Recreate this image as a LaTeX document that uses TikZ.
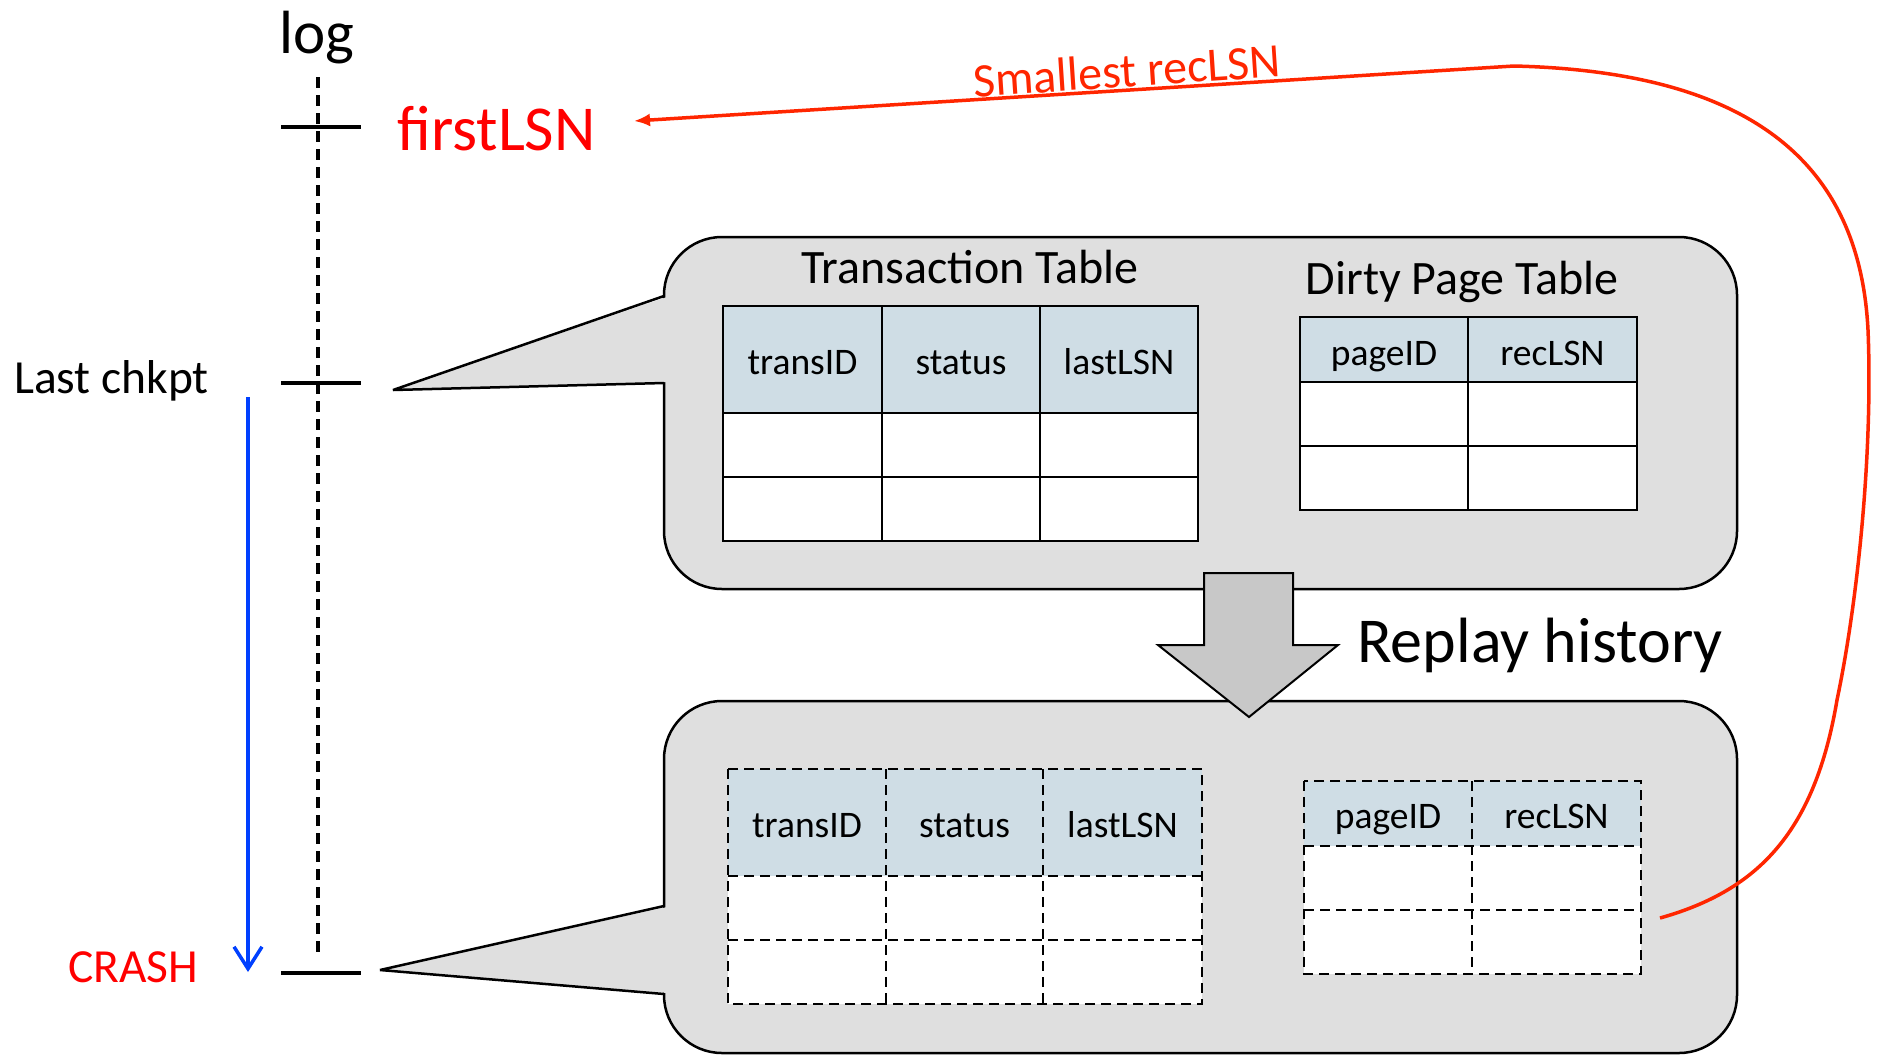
\documentclass[tikz,border=0pt]{standalone}
\usepackage{fontspec}
\setmainfont{Carlito}
\usetikzlibrary{arrows.meta}
\definecolor{calloutgray}{RGB}{223,223,223}
\definecolor{arrowgray}{RGB}{200,200,200}
\definecolor{hdrblue}{RGB}{207,221,229}
\definecolor{linered}{RGB}{255,38,0}
\definecolor{logblue}{RGB}{0,64,255}
\begin{document}
\begin{tikzpicture}[x=1pt,y=-1pt,
  lbl/.style={inner sep=0pt, anchor=base west, font=\fontsize{47.5pt}{56pt}\selectfont},
  title/.style={inner sep=0pt, anchor=base, font=\fontsize{48pt}{57pt}\selectfont},
  hdr/.style={inner sep=0pt, anchor=base, font=\fontsize{37.5pt}{45pt}\selectfont},
  tick/.style={line width=4pt},
  callout/.style={draw=black, line width=2.5pt, fill=calloutgray},
  pointer/.style={draw=black, line width=2.5pt, line join=bevel},
  gridline/.style={line width=2.5pt},
  dashgrid/.style={line width=2.5pt, dash pattern=on 10pt off 6pt},
]
\useasboundingbox (0,0) rectangle (1877,1058);
\fill[white] (0,0) rectangle (1877,1058);

% ---------- log axis ----------
\node[inner sep=0pt, anchor=base, font=\fontsize{61pt}{71pt}\selectfont] (logl) at (317,53) {log};
\coordinate (logtop) at (318,77);
\coordinate (logbot) at (318,952);
\draw[line width=4pt, dash pattern=on 11pt off 7pt] (logtop) -- (logbot);
\coordinate (t1a) at (281,127); \coordinate (t1b) at (361,127);
\coordinate (t2a) at (281,383); \coordinate (t2b) at (361,383);
\coordinate (t3a) at (281,973); \coordinate (t3b) at (361,973);
\draw[tick] (t1a) -- (t1b);
\draw[tick] (t2a) -- (t2b);
\draw[tick] (t3a) -- (t3b);

\node[lbl, text=red, font=\fontsize{64pt}{74pt}\selectfont] (firstLSN) at (397,150) {firstLSN};
\node[lbl] (chkpt) at (14,393) {Last chkpt};
\node[lbl, text=red] (crash) at (68,982) {CRASH};

\coordinate (bluetop) at (248,397);
\coordinate (bluebot) at (248,972);
\draw[logblue, line width=3.5pt, -{Straight Barb[length=22pt,width=28pt]}] (bluetop) -- (bluebot);

% ---------- top callout ----------
\draw[callout, rounded corners=58pt] (664,237) rectangle (1737,589);
\fill[calloutgray] (667,297) -- (393,390) -- (667,382) -- cycle;
\draw[pointer] (664,296) -- (393,390) -- (664,383);

\node[title] (tttitle) at (970,283) {Transaction Table};
\node[title] (dpttitle) at (1462,294) {Dirty Page Table};

% transaction table (top)
\fill[hdrblue] (723,306) rectangle (1198,413);
\fill[white] (723,413) rectangle (1198,541);
\draw[gridline] (723,306) rectangle (1198,541);
\draw[gridline] (723,413) -- (1198,413) (723,477) -- (1198,477)
  (882,306) -- (882,541) (1040,306) -- (1040,541);
\node[hdr] (ta) at (802.5,374) {transID};
\node[hdr] (tb) at (961,374) {status};
\node[hdr] (tc) at (1119,374) {lastLSN};

% dirty page table (top)
\fill[hdrblue] (1300,317) rectangle (1637,382);
\fill[white] (1300,382) rectangle (1637,510);
\draw[gridline] (1300,317) rectangle (1637,510);
\draw[gridline] (1300,382) -- (1637,382) (1300,446) -- (1637,446)
  (1468,317) -- (1468,510);
\node[hdr] (da) at (1384,365) {pageID};
\node[hdr] (db) at (1552.5,365) {recLSN};

% ---------- bottom callout ----------
\draw[callout, rounded corners=58pt] (664,701) rectangle (1737,1053);
\fill[calloutgray] (667,907) -- (380,970) -- (667,993) -- cycle;
\draw[pointer] (664,906) -- (380,970) -- (664,994);

% transaction table (bottom, dashed)
\fill[hdrblue] (728,769) rectangle (1202,876);
\fill[white] (728,876) rectangle (1202,1004);
\draw[dashgrid] (728,769) rectangle (1202,1004);
\draw[dashgrid] (728,876) -- (1202,876) (728,940) -- (1202,940)
  (886,769) -- (886,1004) (1043,769) -- (1043,1004);
\node[hdr] (ba) at (807,837) {transID};
\node[hdr] (bb) at (964.5,837) {status};
\node[hdr] (bc) at (1122.5,837) {lastLSN};

% dirty page table (bottom, dashed)
\fill[hdrblue] (1304,781) rectangle (1641,846);
\fill[white] (1304,846) rectangle (1641,974);
\draw[dashgrid] (1304,781) rectangle (1641,974);
\draw[dashgrid] (1304,846) -- (1641,846) (1304,910) -- (1641,910)
  (1472,781) -- (1472,974);
\node[hdr] (bda) at (1388,828) {pageID};
\node[hdr] (bdb) at (1556.5,828) {recLSN};

% ---------- replay arrow ----------
\draw[line width=2pt, fill=arrowgray, line join=miter]
  (1204,573) -- (1293,573) -- (1293,645) -- (1338,645) -- (1249,717)
  -- (1158,645) -- (1204,645) -- cycle;
\node[inner sep=0pt, anchor=base west, font=\fontsize{64pt}{74pt}\selectfont] (replay) at (1357,662) {Replay history};

% ---------- smallest recLSN connector ----------
\coordinate (recsrc) at (1660,918);
\coordinate (lsntip) at (634,121);
\draw[linered, line width=3.5pt, -{Latex[length=16pt,width=13pt]}]
  (recsrc) .. controls (1760,890) and (1815,830) .. (1837,700)
  .. controls (1858,600) and (1873,450) .. (1868,330)
  .. controls (1860,170) and (1760,72) .. (1514,66) -- (lsntip);
\node[inner sep=0pt, anchor=base, rotate=3.8, text=linered, font=\fontsize{48pt}{57pt}\selectfont] (smallest) at (1128,87) {Smallest recLSN};
\end{tikzpicture}
\end{document}
